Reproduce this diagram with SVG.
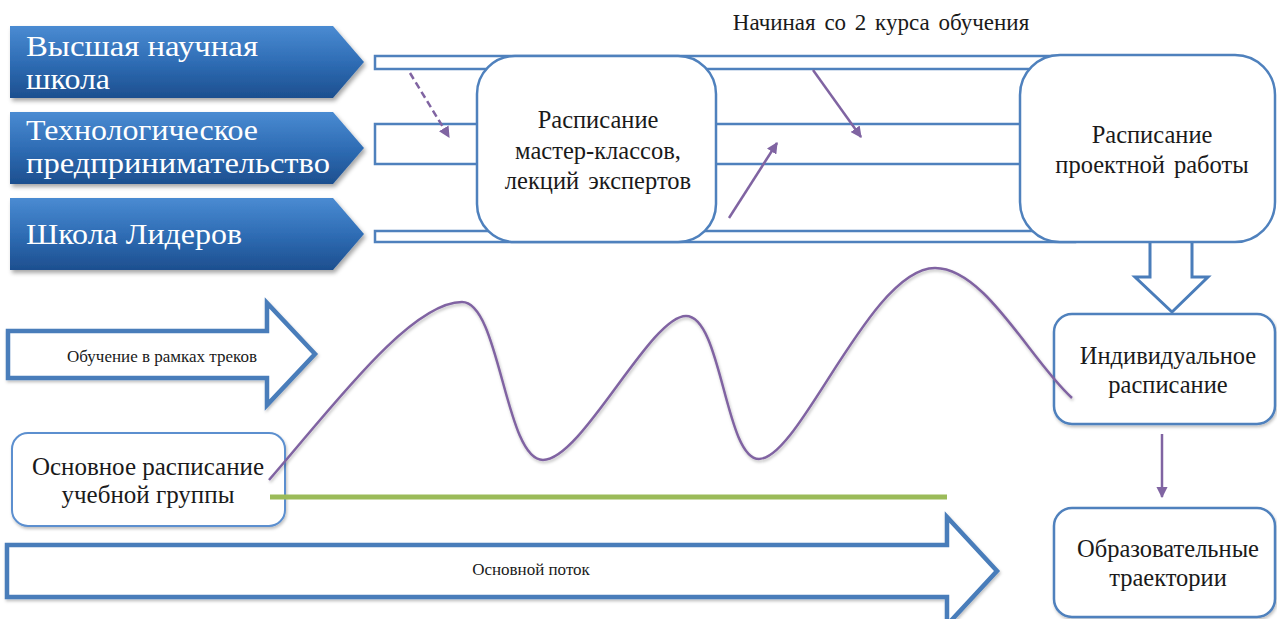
<svg xmlns="http://www.w3.org/2000/svg" width="1277" height="619" viewBox="0 0 1277 619">
<style>
.t{font-family:"Liberation Serif","Times New Roman",serif;fill:#1a1a1a;text-anchor:middle}
.w{font-family:"Liberation Serif","Times New Roman",serif;fill:#ffffff;font-size:29px}
.bx{font-size:24.5px}
.box{fill:#ffffff;stroke:#4f81bd;stroke-width:2.5}
.lane{fill:#ffffff;stroke:#4f81bd;stroke-width:2.5}
.blk{fill:#ffffff;stroke:#4a7dba;stroke-width:4.5;stroke-linejoin:miter}
.pur{fill:none;stroke:#8064a2;stroke-width:2.5}
</style>
<defs>
<linearGradient id="chev" x1="0" y1="0" x2="0" y2="1">
<stop offset="0" stop-color="#4a8bd2"/>
<stop offset="0.5" stop-color="#2f6db5"/>
<stop offset="1" stop-color="#1d4f8f"/>
</linearGradient>
<filter id="sh" x="-5%" y="-10%" width="115%" height="130%">
<feDropShadow dx="2" dy="3" stdDeviation="2" flood-color="#000" flood-opacity="0.35"/>
</filter>
<filter id="sh2" x="-5%" y="-10%" width="115%" height="130%">
<feDropShadow dx="1" dy="2" stdDeviation="1.5" flood-color="#000" flood-opacity="0.25"/>
</filter>
<marker id="ah" viewBox="0 0 10 10" refX="9" refY="5" markerWidth="4.5" markerHeight="4.5" orient="auto">
<path d="M0,0 L10,5 L0,10 Z" fill="#8064a2"/>
</marker>
</defs>

<g id="tracks">
<g id="track1"><path d="M10,26 L333,26 L364,62 L333,98 L10,98 Z" fill="url(#chev)" filter="url(#sh)"/>
<text class="w" x="26" y="56" textLength="232" lengthAdjust="spacingAndGlyphs">Высшая научная</text><text class="w" x="26" y="89" textLength="84" lengthAdjust="spacingAndGlyphs">школа</text></g>
<g id="track2"><path d="M10,112 L333,112 L364,148 L333,184 L10,184 Z" fill="url(#chev)" filter="url(#sh)"/>
<text class="w" x="26" y="140" textLength="232" lengthAdjust="spacingAndGlyphs">Технологическое</text><text class="w" x="26" y="173" textLength="304" lengthAdjust="spacingAndGlyphs">предпринимательство</text></g>
<g id="track3"><path d="M10,198 L333,198 L364,234 L333,270 L10,270 Z" fill="url(#chev)" filter="url(#sh)"/>
<text class="w" x="26" y="244" textLength="216" lengthAdjust="spacingAndGlyphs">Школа Лидеров</text></g>
</g>

<g id="lanes">
<rect class="lane" x="375" y="56" width="700" height="13"/>
<rect class="lane" x="375" y="124" width="700" height="40"/>
<rect class="lane" x="375" y="231" width="700" height="11"/>
</g>

<g id="top-label"><text class="t" x="881" y="30" font-size="23" word-spacing="3">Начиная со 2 курса обучения</text></g>

<g id="down-arrow">
<path class="blk" d="M1150,242 L1150,277 L1135,277 L1172,312 L1208,277 L1192,277 L1192,242" style="stroke-width:3"/>
</g>

<g id="masterclass"><rect class="box" x="477" y="56" width="239" height="186" rx="38"/>
<text class="t bx" x="598" y="128">Расписание</text>
<text class="t bx" x="598" y="159">мастер-классов,</text>
<text class="t bx" x="598" y="189" word-spacing="3">лекций экспертов</text></g>

<g id="project"><rect class="box" x="1020" y="55" width="255" height="187" rx="40"/>
<text class="t bx" x="1152" y="143">Расписание</text>
<text class="t bx" x="1152" y="173" word-spacing="3">проектной работы</text></g>

<g id="individual"><rect class="box" x="1054" y="314" width="221" height="110" rx="18" filter="url(#sh2)"/>
<text class="t bx" x="1168" y="364">Индивидуальное</text>
<text class="t bx" x="1168" y="393">расписание</text></g>

<g id="trajectories"><rect class="box" x="1054" y="508" width="221" height="109" rx="18" filter="url(#sh2)"/>
<text class="t bx" x="1168" y="557">Образовательные</text>
<text class="t bx" x="1168" y="586">траектории</text></g>

<g id="track-arrow"><path class="blk" d="M8,331 L267,331 L267,303 L315,354 L267,405 L267,378 L8,378 Z" filter="url(#sh2)"/>
<text class="t" x="162" y="362" font-size="17">Обучение в рамках треков</text></g>

<g id="main-schedule"><rect class="box" x="12" y="433" width="273" height="93" rx="16" style="stroke:#5b8fcf;stroke-width:2" filter="url(#sh2)"/>
<text class="t" x="148" y="475" font-size="25">Основное расписание</text>
<text class="t" x="148" y="503" font-size="25">учебной группы</text></g>

<g id="main-flow"><path class="blk" d="M7,545 L947,545 L947,517 L997,571 L947,625 L947,597 L7,597 Z" filter="url(#sh2)"/>
<text class="t" x="531" y="575" font-size="17">Основной поток</text></g>

<g id="connectors">
<line class="pur" x1="410" y1="73" x2="449" y2="137" stroke-dasharray="7,4" marker-end="url(#ah)"/>
<line class="pur" x1="813" y1="70" x2="861" y2="137" marker-end="url(#ah)"/>
<line class="pur" x1="729" y1="218" x2="777" y2="143" marker-end="url(#ah)"/>
<line class="pur" x1="1162" y1="434" x2="1162" y2="497" marker-end="url(#ah)"/>
<path class="pur" filter="url(#sh2)" d="M269,480 C330,410 410,302 462,302 C500,302 505,460 543,460 C582,460 650,316 686,316 C722,316 725,459 759,459 C800,459 870,268 935,268 C985,268 1030,360 1072,398"/>
<line x1="270" y1="497" x2="947" y2="497" stroke="#9bbb59" stroke-width="5"/>
</g>
</svg>
